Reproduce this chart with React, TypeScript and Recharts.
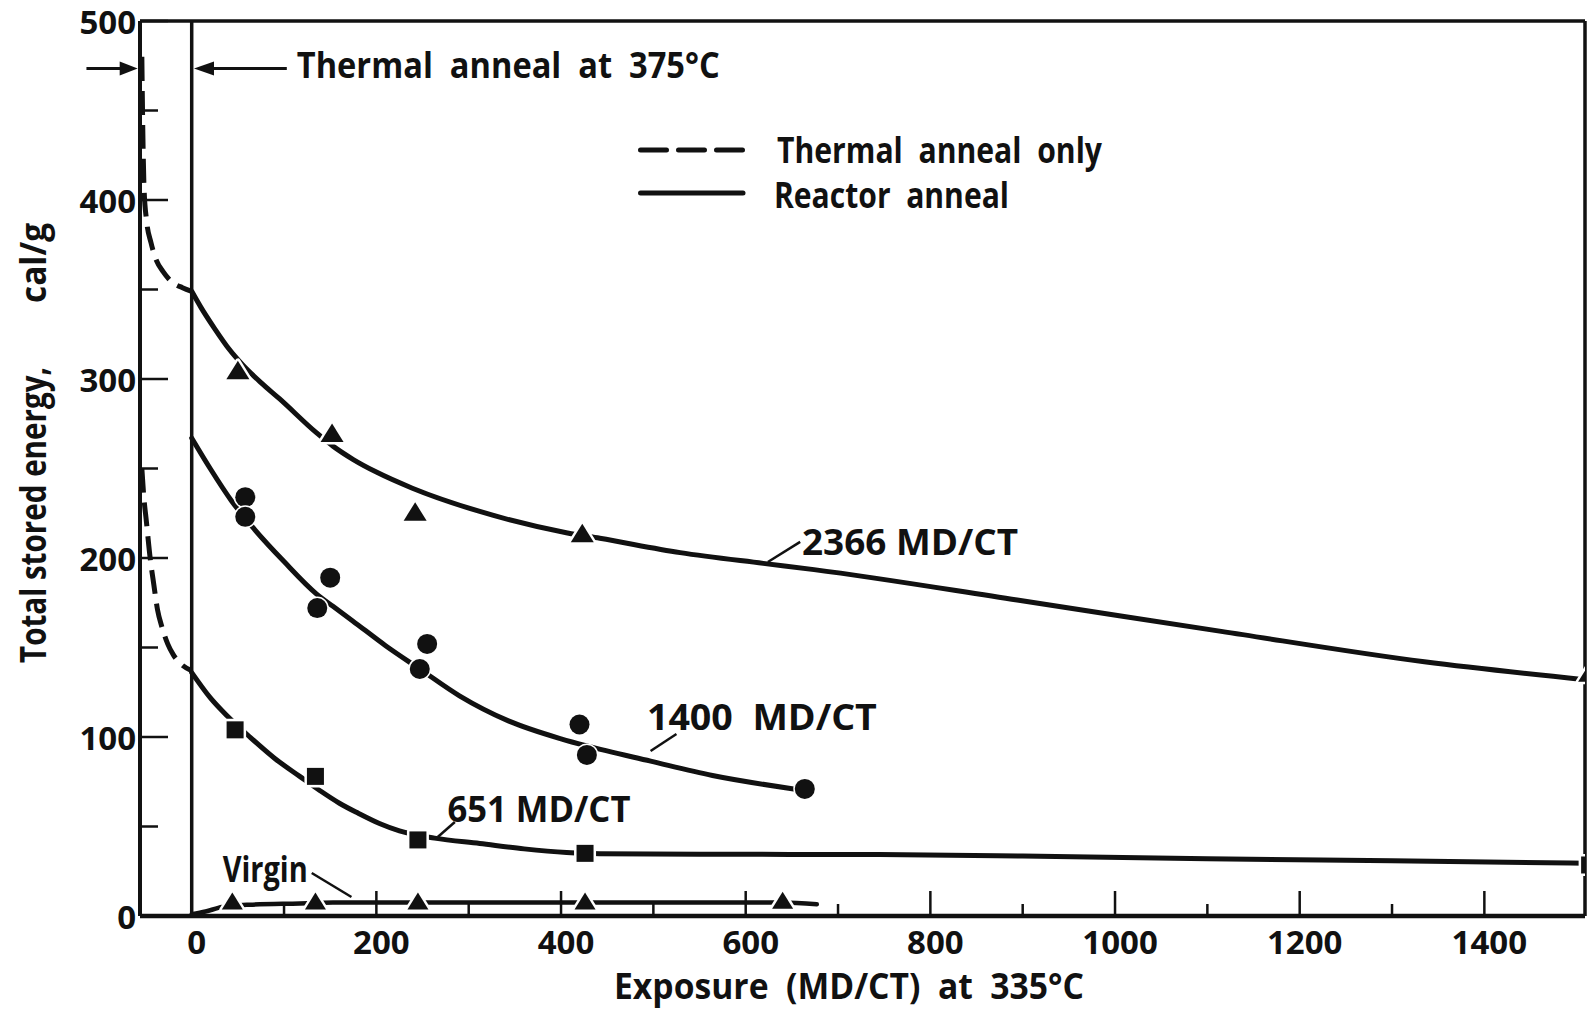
import React from 'react';
import {
  ComposedChart,
  Line,
  XAxis,
  YAxis,
  ReferenceLine,
  ReferenceDot,
  Legend,
} from 'recharts';

const FONT = '"Open Sans", "DejaVu Sans", Arial, sans-serif';
const INK = '#111';

// ---------- axes ----------
const xDomain: [number, number] = [-56, 1509];
const yDomain: [number, number] = [0, 500];
const xTicks = [0, 100, 200, 300, 400, 500, 600, 700, 800, 900, 1000, 1100, 1200, 1300, 1400];
const xTickLabels = [0, 200, 400, 600, 800, 1000, 1200, 1400];
const yTicks = [0, 50, 100, 150, 200, 250, 300, 350, 400, 450, 500];
const yTickLabels = [0, 100, 200, 300, 400, 500];

// ---------- thermal anneal only (dashed) ----------
const thermal2366 = [
  { x: -54, y: 480 }, { x: -53, y: 440 }, { x: -51.5, y: 405 }, { x: -49, y: 389 },
  { x: -44, y: 376 }, { x: -38, y: 366 }, { x: -31, y: 360 }, { x: -21, y: 354 },
  { x: -10, y: 351 }, { x: 0, y: 349 },
];
const thermal651 = [
  { x: -54, y: 250 }, { x: -52, y: 235 }, { x: -49, y: 220 }, { x: -45, y: 200 },
  { x: -41, y: 185 }, { x: -37, y: 171 }, { x: -32, y: 161 }, { x: -26, y: 152 },
  { x: -20, y: 146 }, { x: -12, y: 141 }, { x: 0, y: 137 },
];

// ---------- reactor anneal (solid) ----------
const reactor2366 = [
  { x: 0, y: 349 }, { x: 10, y: 340 }, { x: 25, y: 328 }, { x: 40, y: 317 }, { x: 55, y: 308 },
  { x: 75, y: 298 }, { x: 95, y: 289 }, { x: 135, y: 270 }, { x: 153, y: 262.5 }, { x: 175, y: 255 },
  { x: 200, y: 248 }, { x: 239, y: 239 }, { x: 312, y: 226 }, { x: 407, y: 214 }, { x: 442, y: 211 },
  { x: 529, y: 203 }, { x: 619, y: 197 }, { x: 674, y: 193.5 }, { x: 894, y: 176.5 }, { x: 1115, y: 159 },
  { x: 1335, y: 142 }, { x: 1509, y: 132 },
];
const reactor1400 = [
  { x: 0, y: 267 }, { x: 20, y: 250 }, { x: 43, y: 232 }, { x: 68, y: 216 }, { x: 100, y: 198 },
  { x: 135, y: 180 }, { x: 153, y: 173 }, { x: 174, y: 165 }, { x: 210, y: 151 }, { x: 247, y: 138 },
  { x: 290, y: 123 }, { x: 343, y: 109 }, { x: 400, y: 99 }, { x: 428, y: 95 }, { x: 497, y: 86.5 },
  { x: 564, y: 78.5 }, { x: 652, y: 71 },
];
const reactor651 = [
  { x: 0, y: 136 }, { x: 20, y: 122 }, { x: 38, y: 112 }, { x: 63, y: 100 }, { x: 90, y: 88 },
  { x: 117, y: 78 }, { x: 139, y: 70 }, { x: 160, y: 63 }, { x: 180, y: 57.5 }, { x: 204, y: 51.5 },
  { x: 225, y: 47.5 }, { x: 263, y: 43.5 }, { x: 312, y: 40.5 }, { x: 360, y: 37.5 }, { x: 406, y: 35.5 },
  { x: 442, y: 34.8 }, { x: 550, y: 34.5 }, { x: 745, y: 34.3 }, { x: 900, y: 33.5 }, { x: 1100, y: 32 },
  { x: 1300, y: 30.8 }, { x: 1509, y: 29.5 },
];
const reactorVirgin = [
  { x: 0, y: 1 }, { x: 15, y: 2.5 }, { x: 33, y: 5 }, { x: 63, y: 6.3 }, { x: 117, y: 7 },
  { x: 153, y: 7.5 }, { x: 250, y: 7.5 }, { x: 426, y: 7.5 }, { x: 594, y: 7.5 }, { x: 640, y: 7.5 },
  { x: 677, y: 6.5 },
];

// ---------- measured points ----------
const points2366 = [
  { x: 50, y: 304 }, { x: 152, y: 269 }, { x: 242, y: 225 }, { x: 423, y: 213 }, { x: 1514, y: 135 },
];
const points1400 = [
  { x: 58, y: 234 }, { x: 58, y: 223 }, { x: 136, y: 172 }, { x: 150, y: 189 }, { x: 247, y: 138 },
  { x: 255, y: 152 }, { x: 420, y: 107 }, { x: 428, y: 90 }, { x: 664, y: 71 },
];
const points651 = [
  { x: 47, y: 104 }, { x: 134, y: 78 }, { x: 245, y: 42.5 }, { x: 426, y: 35 }, { x: 1514, y: 28.5 },
];
const pointsVirgin = [
  { x: 44, y: 7.5 }, { x: 134, y: 7.5 }, { x: 245, y: 7.5 }, { x: 426, y: 7.5 }, { x: 640, y: 8 },
];

// ---------- annotations ----------
const curveLabels = [
  { text: '2366 MD/CT', x: 661, y: 201.7, len: 216, from: { x: 624, y: 197.8 }, to: { x: 659, y: 209 } },
  { text: '1400  MD/CT', x: 493, y: 103.9, len: 230, from: { x: 497, y: 92.2 }, to: { x: 525, y: 101.7 } },
  { text: '651 MD/CT', x: 277, y: 52.5, len: 183, from: { x: 266.5, y: 44.1 }, to: { x: 285, y: 52.5 } },
  { text: 'Virgin', x: 33.6, y: 19, len: 85, from: { x: 130, y: 24 }, to: { x: 173, y: 10.6 } },
];
const annealNote = { text: 'Thermal  anneal  at  375°C', x: 113.8, y: 468, len: 423 };
const annealArrow = { tip: 2.5, tail: 103, y: 473.5 };
const startArrow = { tip: -58.5, tail: -114, y: 473.5 };

const legendItems = [
  { label: 'Thermal  anneal  only', dashed: true, len: 325, textX: 139 },
  { label: 'Reactor  anneal', dashed: false, len: 235, textX: 136 },
];

// ---------- renderers ----------
const halo = { stroke: '#fff', strokeWidth: 5, paintOrder: 'stroke' as const, strokeLinejoin: 'round' as const };

const triangleDot = (p: any) => {
  const { cx, cy, index } = p;
  if (cx == null || cy == null) return <g key={`t-${index}`} />;
  return (
    <polygon
      key={`t-${index}`}
      points={`${cx},${cy - 11} ${cx - 11.5},${cy + 7.5} ${cx + 11.5},${cy + 7.5}`}
      fill={INK}
      {...halo}
    />
  );
};
const smallTriangleDot = (p: any) => {
  const { cx, cy, index } = p;
  if (cx == null || cy == null) return <g key={`v-${index}`} />;
  return (
    <polygon
      key={`v-${index}`}
      points={`${cx},${cy - 10} ${cx - 10.5},${cy + 7} ${cx + 10.5},${cy + 7}`}
      fill={INK}
      {...halo}
    />
  );
};
const circleDot = (p: any) => {
  const { cx, cy, index } = p;
  if (cx == null || cy == null) return <g key={`c-${index}`} />;
  return <circle key={`c-${index}`} cx={cx} cy={cy} r={10} fill={INK} {...halo} strokeWidth={3} />;
};
const squareDot = (p: any) => {
  const { cx, cy, index } = p;
  if (cx == null || cy == null) return <g key={`s-${index}`} />;
  return <rect key={`s-${index}`} x={cx - 8.5} y={cy - 8.5} width={17} height={17} fill={INK} {...halo} />;
};

const textStyle = { fontFamily: FONT, fontWeight: 700, fill: INK } as const;

const XTick = (props: any) => {
  const { x, y, payload } = props;
  const v = payload.value;
  const major = xTickLabels.includes(v);
  return (
    <g>
      <line x1={x} x2={x} y1={y} y2={y - (major ? 25 : 12)} stroke={INK} strokeWidth={2.5} />
      {major && (
        <text x={x + 5} y={y + 38} textAnchor="middle" fontSize={33} {...textStyle}>
          {v}
        </text>
      )}
    </g>
  );
};

const YTick = (props: any) => {
  const { x, y, payload } = props;
  const v = payload.value;
  const major = yTickLabels.includes(v);
  return (
    <g>
      <line x1={x} x2={x + (major ? 28 : 18)} y1={y} y2={y} stroke={INK} strokeWidth={2.5} />
      {major && (
        <text x={x - 4} y={y + 12.5} textAnchor="end" fontSize={33} {...textStyle}>
          {v}
        </text>
      )}
    </g>
  );
};

const XTitle = (props: any) => {
  const vb = props.viewBox || { x: 140, y: 916, width: 1445, height: 93 };
  return (
    <text
      x={vb.x + 709}
      y={vb.y + 83}
      textAnchor="middle"
      fontSize={35}
      textLength={470}
      lengthAdjust="spacingAndGlyphs"
      style={{ whiteSpace: 'pre' }}
      {...textStyle}
    >
      {'Exposure  (MD/CT)  at  335°C'}
    </text>
  );
};

const YTitle = (props: any) => {
  const vb = props.viewBox || { x: 0, y: 21, width: 140, height: 895 };
  const bx = vb.x + 46;
  const y1 = vb.y + 642;
  const y2 = vb.y + 282;
  return (
    <g>
      <text
        x={bx}
        y={y1}
        transform={`rotate(-90 ${bx} ${y1})`}
        fontSize={35}
        textLength={296}
        lengthAdjust="spacingAndGlyphs"
        {...textStyle}
      >
        Total stored energy,
      </text>
      <text
        x={bx}
        y={y2}
        transform={`rotate(-90 ${bx} ${y2})`}
        fontSize={35}
        textLength={80}
        lengthAdjust="spacingAndGlyphs"
        {...textStyle}
      >
        cal/g
      </text>
    </g>
  );
};

const makeText = (text: string, len: number) => (p: any) => (
  <text
    x={p.cx}
    y={p.cy}
    fontSize={35}
    textLength={len}
    lengthAdjust="spacingAndGlyphs"
    style={{ whiteSpace: 'pre' }}
    {...textStyle}
  >
    {text}
  </text>
);

const arrowRight = (p: any) => (
  <polygon points={`${p.cx},${p.cy} ${p.cx - 18},${p.cy - 7} ${p.cx - 18},${p.cy + 7}`} fill={INK} />
);
const arrowLeft = (p: any) => (
  <polygon points={`${p.cx},${p.cy} ${p.cx + 20},${p.cy - 7} ${p.cx + 20},${p.cy + 7}`} fill={INK} />
);

const LegendBox = () => (
  <svg width={480} height={100} style={{ display: 'block', overflow: 'visible' }}>
    {legendItems.map((it, i) => (
      <g key={it.label}>
        <line
          x1={2.5}
          x2={105}
          y1={25 + i * 43}
          y2={25 + i * 43}
          stroke={INK}
          strokeWidth={5}
          strokeLinecap="round"
          strokeDasharray={it.dashed ? '26 12' : undefined}
        />
        <text
          x={it.textX}
          y={38 + i * 45}
          fontSize={35}
          textLength={it.len}
          lengthAdjust="spacingAndGlyphs"
          style={{ whiteSpace: 'pre' }}
          {...textStyle}
        >
          {it.label}
        </text>
      </g>
    ))}
  </svg>
);

export default function App() {
  return (
    <div style={{ position: 'absolute', left: 0, top: 0, width: 1596, height: 1009, background: '#fff' }}>
      <ComposedChart width={1596} height={1009} margin={{ top: 21, right: 11, bottom: 0, left: 0 }}>
        <XAxis
          dataKey="x"
          type="number"
          domain={xDomain}
          allowDataOverflow
          ticks={xTicks}
          interval={0}
          tickSize={0}
          tickMargin={0}
          tickLine={false}
          axisLine={{ stroke: INK, strokeWidth: 4.5 }}
          tick={(p: any) => <XTick {...p} />}
          height={93}
          label={<XTitle />}
        />
        <YAxis
          type="number"
          domain={yDomain}
          allowDataOverflow
          ticks={yTicks}
          interval={0}
          tickSize={0}
          tickMargin={0}
          tickLine={false}
          axisLine={{ stroke: INK, strokeWidth: 4 }}
          tick={(p: any) => <YTick {...p} />}
          width={140}
          label={<YTitle />}
        />
        <Legend
          layout="horizontal"
          verticalAlign="middle"
          align="center"
          content={() => <LegendBox />}
          wrapperStyle={{ left: 638, top: 125, width: 480, height: 100 }}
        />

        <ReferenceLine y={500} stroke={INK} strokeWidth={3.5} />
        <ReferenceLine x={xDomain[1]} stroke={INK} strokeWidth={3.5} />
        <ReferenceLine x={0} stroke={INK} strokeWidth={3.5} />

        <Line data={thermal2366} dataKey="y" type="monotone" stroke={INK} strokeWidth={5} strokeDasharray="24 10" dot={false} activeDot={false} isAnimationActive={false} legendType="none" />
        <Line data={thermal651} dataKey="y" type="monotone" stroke={INK} strokeWidth={5} strokeDasharray="24 10" dot={false} activeDot={false} isAnimationActive={false} legendType="none" />
        <Line data={reactor2366} dataKey="y" type="monotone" stroke={INK} strokeWidth={5} strokeLinecap="round" dot={false} activeDot={false} isAnimationActive={false} legendType="none" />
        <Line data={reactor1400} dataKey="y" type="monotone" stroke={INK} strokeWidth={5} strokeLinecap="round" dot={false} activeDot={false} isAnimationActive={false} legendType="none" />
        <Line data={reactor651} dataKey="y" type="monotone" stroke={INK} strokeWidth={5} strokeLinecap="round" dot={false} activeDot={false} isAnimationActive={false} legendType="none" />
        <Line data={reactorVirgin} dataKey="y" type="monotone" stroke={INK} strokeWidth={4.5} strokeLinecap="round" dot={false} activeDot={false} isAnimationActive={false} legendType="none" />

        <Line data={points2366} dataKey="y" stroke="none" dot={triangleDot} activeDot={false} isAnimationActive={false} legendType="none" />
        <Line data={points1400} dataKey="y" stroke="none" dot={circleDot} activeDot={false} isAnimationActive={false} legendType="none" />
        <Line data={points651} dataKey="y" stroke="none" dot={squareDot} activeDot={false} isAnimationActive={false} legendType="none" />
        <Line data={pointsVirgin} dataKey="y" stroke="none" dot={smallTriangleDot} activeDot={false} isAnimationActive={false} legendType="none" />

        {curveLabels.map((c) => (
          <ReferenceLine
            key={`lead-${c.text}`}
            segment={[c.from, c.to]}
            stroke={INK}
            strokeWidth={2.5}
            ifOverflow="visible"
          />
        ))}
        {curveLabels.map((c) => (
          <ReferenceDot
            key={`lab-${c.text}`}
            x={c.x}
            y={c.y}
            r={0}
            ifOverflow="visible"
            shape={makeText(c.text, c.len)}
          />
        ))}

        <ReferenceLine
          segment={[{ x: annealArrow.tip + 8, y: annealArrow.y }, { x: annealArrow.tail, y: annealArrow.y }]}
          stroke={INK}
          strokeWidth={3}
          ifOverflow="visible"
        />
        <ReferenceDot x={annealArrow.tip} y={annealArrow.y} r={0} ifOverflow="visible" shape={arrowLeft} />
        <ReferenceLine
          segment={[{ x: startArrow.tail, y: startArrow.y }, { x: startArrow.tip - 8, y: startArrow.y }]}
          stroke={INK}
          strokeWidth={3}
          ifOverflow="visible"
        />
        <ReferenceDot x={startArrow.tip} y={startArrow.y} r={0} ifOverflow="visible" shape={arrowRight} />
        <ReferenceDot
          x={annealNote.x}
          y={annealNote.y}
          r={0}
          ifOverflow="visible"
          shape={makeText(annealNote.text, annealNote.len)}
        />
      </ComposedChart>
    </div>
  );
}
